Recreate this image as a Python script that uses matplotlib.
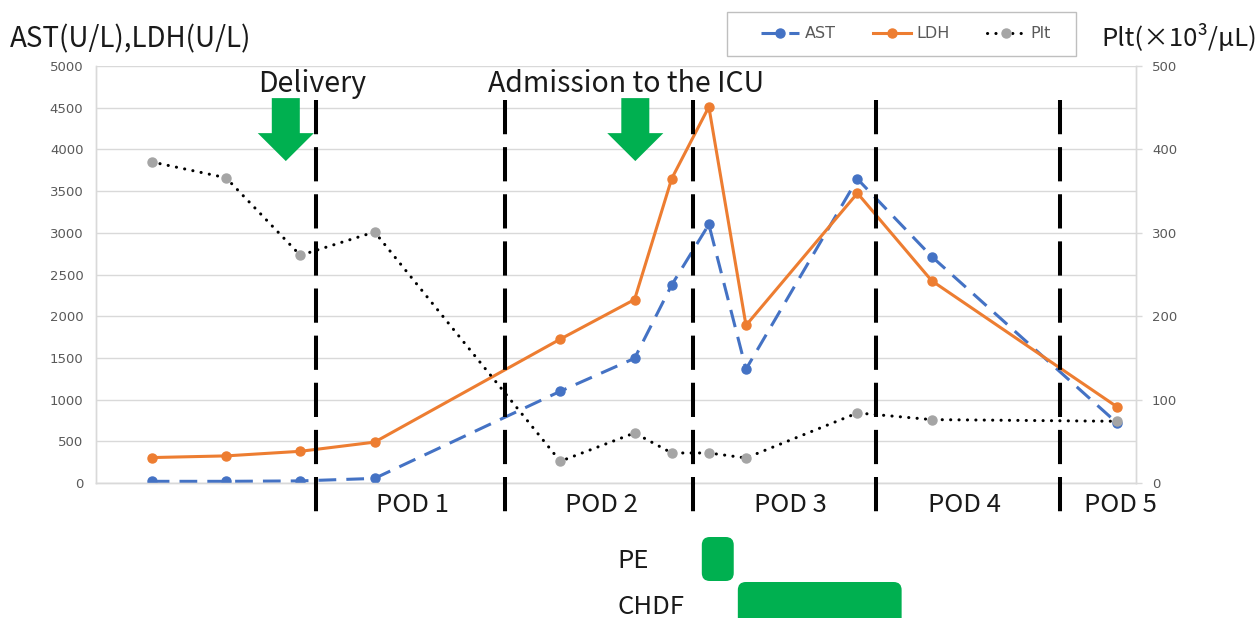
import matplotlib
matplotlib.use("Agg")
import matplotlib.pyplot as plt
import matplotlib.transforms as mtransforms
from matplotlib.patches import FancyBboxPatch, Polygon, Rectangle
from matplotlib.lines import Line2D

# ---------------- data ----------------
x_pos = [0, 2, 4, 6, 11, 13, 14, 15, 16, 19, 21, 26]
ast = [20, 20, 25, 55, 1100, 1495, 2375, 3100, 1365, 3645, 2715, 715]
ldh = [305, 325, 380, 490, 1725, 2200, 3650, 4510, 1890, 3475, 2425, 910]
plt_vals = [385, 366, 273, 301, 26, 60, 36, 36, 30, 84, 76, 74]

pod_boundaries = [4.43, 9.51, 14.58, 19.49, 24.45]
pod_labels = ["POD 1", "POD 2", "POD 3", "POD 4", "POD 5"]
pod_label_x = [7.03, 12.12, 17.2, 21.89, 26.09]

event_arrow_x = [3.61, 13.02]
event_labels = ["Delivery", "Admission to the ICU"]
event_label_x = [4.31, 12.76]

treat_labels = ["PE", "CHDF"]
treat_start = [14.81, 15.78]
treat_end = [15.67, 20.19]

left_ticks = list(range(0, 5001, 500))
right_ticks = list(range(0, 501, 100))

# ---------------- style ----------------
BLUE = "#4472C4"
ORANGE = "#ED7D31"
GRAY = "#A5A5A5"
GREEN = "#00B050"
GRID = "#D9D9D9"
TICKC = "#595959"
BIGFONT = ["Noto Sans CJK JP", "DejaVu Sans"]
BIG = 18.5

W, H = 1258, 618
fig = plt.figure(figsize=(W / 100, H / 100), dpi=100)
fig.patch.set_facecolor("white")

ax = fig.add_axes([96 / W, 1 - 483 / H, 1040 / W, 417 / H])
ax2 = ax.twinx()

ax.set_xlim(-1.5, 26.5)
ax.set_ylim(0, 5000)
ax2.set_ylim(0, 500)
ax.set_xticks([])
ax.set_yticks(left_ticks)
ax2.set_yticks(right_ticks)
ax.grid(axis="y", color=GRID, lw=1.0)
ax.set_axisbelow(True)

for a in (ax, ax2):
    for s in a.spines.values():
        s.set_color(GRID)
        s.set_linewidth(1.0)
    a.spines["top"].set_visible(False)

ax.tick_params(axis="y", length=0, pad=9, labelsize=9.5, labelcolor=TICKC,
               labelfontfamily="DejaVu Sans")
ax2.tick_params(axis="y", length=4.5, width=1.0, color=GRID, pad=7,
                labelsize=9.5, labelcolor=TICKC)

lw = 2.2
ms = 6.5
ax.plot(x_pos, ast, color=BLUE, lw=lw, ls=(0, (5.8, 3.3)), marker="o",
        ms=ms, mfc=BLUE, mec=BLUE, zorder=3, label="AST")
ax.plot(x_pos, ldh, color=ORANGE, lw=lw, ls="-", marker="o",
        ms=ms, mfc=ORANGE, mec=ORANGE, zorder=3, label="LDH")
ax2.plot(x_pos, plt_vals, color="black", lw=lw, ls=(0, (0.05, 2.7)),
         dash_capstyle="round", marker="o", ms=ms, mfc=GRAY, mec=GRAY,
         zorder=3, label="Plt")

# overlay shapes (blended: x data, y axes)
trans = mtransforms.blended_transform_factory(ax.transData, ax.transAxes)

for xb in pod_boundaries:
    ax2.plot([xb, xb], [0.918, -0.077], transform=trans, color="black",
             lw=2.9, ls=(0, (8.5, 3.2)), solid_capstyle="butt",
             dash_capstyle="butt", clip_on=False, zorder=10)

for xl, lab in zip(pod_label_x, pod_labels):
    ax2.text(xl, -0.0695, lab, transform=trans, ha="center", va="baseline",
             fontsize=BIG, family=BIGFONT, color="#1a1a1a", clip_on=False)

shaft_hw, head_hw = 0.377, 0.755
y_top, y_head, y_tip = 0.923, 0.839, 0.772
for xa in event_arrow_x:
    pts = [(xa - shaft_hw, y_top), (xa + shaft_hw, y_top),
           (xa + shaft_hw, y_head), (xa + head_hw, y_head),
           (xa, y_tip), (xa - head_hw, y_head), (xa - shaft_hw, y_head)]
    ax2.add_patch(Polygon(pts, closed=True, transform=trans, facecolor=GREEN,
                          edgecolor="none", clip_on=False, zorder=11))

for xl, lab in zip(event_label_x, event_labels):
    ax2.text(xl, 0.9376, lab, transform=trans, ha="center", va="baseline",
             fontsize=20.5, family=BIGFONT, color="#1a1a1a", clip_on=False)

# treatment bars
asp = 37.14 / 417.0
r = 0.215
treat_y = [(-0.235, -0.1295), (-0.45, -0.2374)]
treat_text_y = [-0.2038, -0.314]
for (y0, y1), s, e, lab, ty in zip(treat_y, treat_start, treat_end,
                                    treat_labels, treat_text_y):
    p = FancyBboxPatch((s, y0), e - s, y1 - y0,
                       boxstyle=f"round,pad=0,rounding_size={r}",
                       mutation_aspect=asp, transform=trans,
                       facecolor=GREEN, edgecolor="none", clip_on=False,
                       zorder=11)
    ax2.add_patch(p)
    ax2.text(12.55, ty, lab, transform=trans, ha="left", va="baseline",
             fontsize=BIG, family=BIGFONT, color="#1a1a1a", clip_on=False)

# axis titles
fig.text(10 / W, 1 - 47 / H, "AST(U/L),LDH(U/L)", ha="left", va="baseline",
         fontsize=20, family=BIGFONT, color="#1a1a1a")
fig.text(1101 / W, 1 - 46 / H, "Plt(×10³/μL)", ha="left", va="baseline",
         fontsize=BIG, family=BIGFONT, color="#1a1a1a")

# legend
fig.patches.append(Rectangle((727 / W, 1 - 56 / H), 349 / W, 44 / H,
                             transform=fig.transFigure, facecolor="white",
                             edgecolor="#BFBFBF", lw=1.0, zorder=1))
handles = [
    Line2D([], [], color=BLUE, lw=lw, ls=(0, (5.8, 3.3)), marker="o", ms=ms,
           mfc=BLUE, mec=BLUE),
    Line2D([], [], color=ORANGE, lw=lw, marker="o", ms=ms, mfc=ORANGE,
           mec=ORANGE),
    Line2D([], [], color="black", lw=lw, ls=(0, (0.05, 2.7)),
           dash_capstyle="round", marker="o", ms=ms, mfc=GRAY, mec=GRAY),
]
leg = fig.legend(handles, ["AST", "LDH", "Plt"], loc="center",
                 bbox_to_anchor=(906 / W, 1 - 34 / H), ncol=3, frameon=False,
                 fontsize=11.5, handlelength=2.4, handletextpad=0.35,
                 columnspacing=2.3, numpoints=1)
for t in leg.get_texts():
    t.set_color(TICKC)

fig.savefig("out.png", dpi=100, facecolor="white")
